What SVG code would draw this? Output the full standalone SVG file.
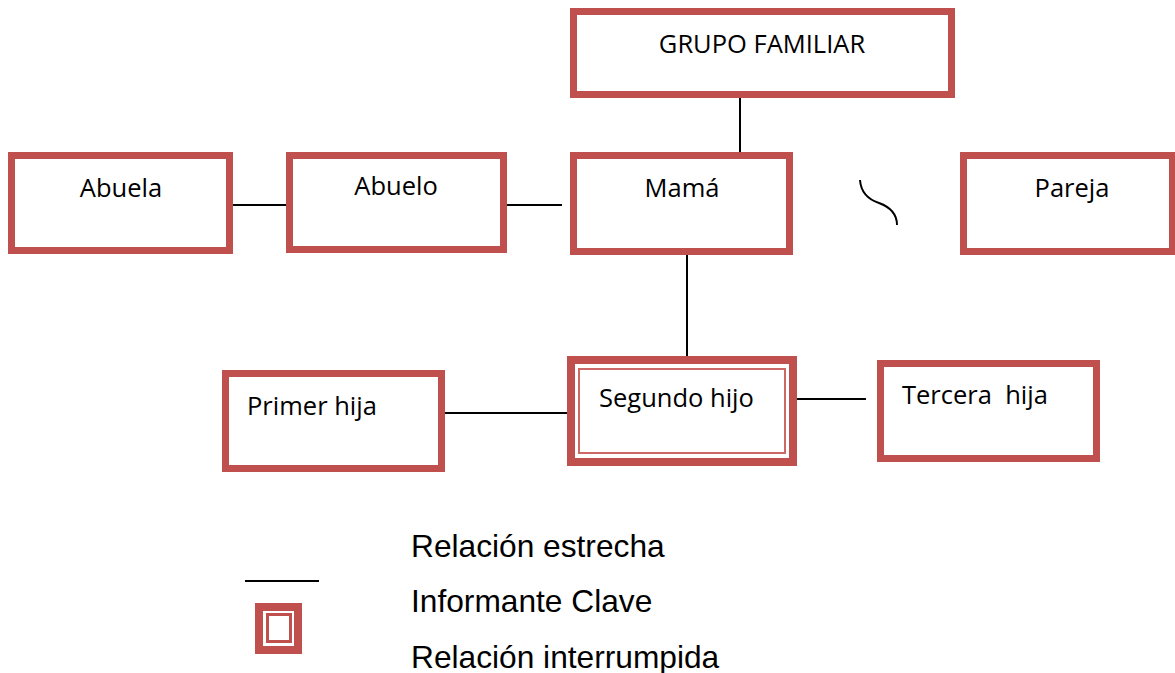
<svg xmlns="http://www.w3.org/2000/svg" width="1175" height="673" viewBox="0 0 1175 673">
<style>
.box{fill:#fff;stroke:#C0504D;stroke-width:7}
.lbl{font-family:"Open Sans","Noto Sans",sans-serif;font-size:25.5px;fill:#000}
.c{text-anchor:middle}
.conn{stroke:#000;stroke-width:2;fill:none}
.leg{font-family:"Liberation Sans",Arial,sans-serif;font-size:31.7px;fill:#000}
</style>
<rect width="1175" height="673" fill="#fff"/>
<g id="connectors">
<line class="conn" x1="740" y1="95" x2="740" y2="155"/>
<line class="conn" x1="233" y1="205" x2="287" y2="205"/>
<line class="conn" x1="507" y1="205" x2="562" y2="205"/>
<line class="conn" x1="687" y1="252" x2="687" y2="360"/>
<line class="conn" x1="442" y1="413" x2="568" y2="413"/>
<line class="conn" x1="790" y1="399" x2="866" y2="399"/>
<path class="conn" d="M860,180 C861,194 870,200 879,203 C890,207 897,214 897,225"/>
</g>
<g id="grupo">
<rect class="box" x="573.5" y="11.5" width="378" height="83"/>
<text class="lbl c" x="762" y="53">GRUPO FAMILIAR</text>
</g>
<g id="abuela">
<rect class="box" x="11.5" y="155.5" width="218" height="95"/>
<text class="lbl c" x="121" y="197">Abuela</text>
</g>
<g id="abuelo">
<rect class="box" x="289.5" y="155.5" width="214" height="94"/>
<text class="lbl c" x="396" y="195">Abuelo</text>
</g>
<g id="mama">
<rect class="box" x="573.5" y="155.5" width="216" height="96"/>
<text class="lbl c" x="682" y="197">Mamá</text>
</g>
<g id="pareja">
<rect class="box" x="963.5" y="155.5" width="209" height="96"/>
<text class="lbl c" x="1072" y="197">Pareja</text>
</g>
<g id="primer">
<rect class="box" x="225.5" y="373.5" width="216" height="95"/>
<text class="lbl" x="247" y="415">Primer hija</text>
</g>
<g id="segundo">
<rect x="571" y="360" width="222" height="102" fill="#fff" stroke="#C0504D" stroke-width="8"/>
<rect x="579" y="369" width="206" height="84" fill="#fff" stroke="#CC6966" stroke-width="2"/>
<text class="lbl" x="599" y="407">Segundo hijo</text>
</g>
<g id="tercera">
<rect class="box" x="880.5" y="363.5" width="216" height="95"/>
<text class="lbl" x="902" y="404" xml:space="preserve" style="white-space:pre">Tercera  hija</text>
</g>
<g id="legend">
<line x1="245" y1="581" x2="319" y2="581" stroke="#000" stroke-width="2"/>
<rect x="255" y="603" width="47" height="51" fill="#C0504D"/>
<rect x="263" y="611" width="31" height="35" fill="#fff"/>
<rect x="267.5" y="614.5" width="23" height="27" fill="#fff" stroke="#C0504D" stroke-width="3"/>
<text class="leg" x="411" y="557">Relación estrecha</text>
<text class="leg" x="411" y="612">Informante Clave</text>
<text class="leg" x="411" y="668">Relación interrumpida</text>
</g>
</svg>
